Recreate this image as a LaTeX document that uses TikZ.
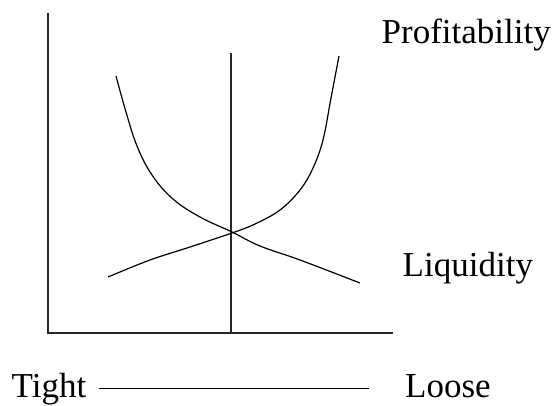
\documentclass[tikz,border=0pt]{standalone}
\usepackage{fontspec}
\setmainfont{Liberation Serif}
\tikzset{lbl/.style={anchor=base west, inner sep=0pt, font=\fontsize{35}{40}\selectfont, text height=25pt, text depth=7.5pt}}
\begin{document}
\begin{tikzpicture}[x=1pt, y=-1pt]
\useasboundingbox (0,0) rectangle (555,405);

\coordinate (top) at (48,13);
\coordinate (origin) at (48,333);
\coordinate (right) at (392.5,333);
\coordinate (mid) at (231,53);
\coordinate (midfoot) at (231,333);

\begin{scope}[line width=1.5pt, color=black!85]
\draw (top) -- (origin) -- (right);
\draw (mid) -- (midfoot);
\end{scope}

\begin{scope}[line width=1.2pt, line join=round]
\draw plot[smooth, tension=0.65] coordinates {(116,76) (126,112) (137,146) (152,175) (173,199) (200,217) (232,232) (260,246) (300,260) (360,283)};
\draw plot[smooth, tension=0.6] coordinates {(108,277) (150,260) (190,247) (232,233) (255,224) (280,210) (300,190) (313,168) (323,140) (331,98) (339,56)};
\end{scope}

\node[lbl] (profit) at (381.5,43) {Profitability};
\node[lbl] (liquid) at (402.5,276) {Liquidity};
\node[lbl] (tight) at (11.5,397) {Tight};
\node[lbl] (loose) at (405,397) {Loose};

\draw [line width=1.2pt, shorten <=13pt, shorten >=36pt] (tight) -- (loose);

\end{tikzpicture}
\end{document}
